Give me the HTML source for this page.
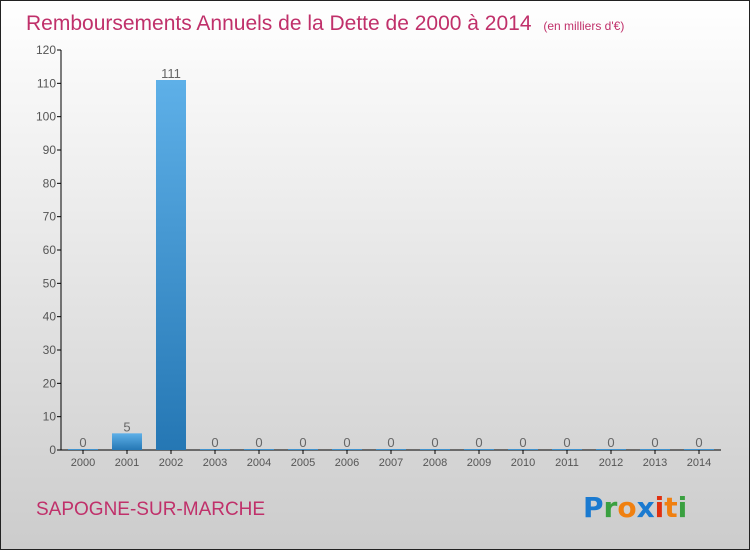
<!DOCTYPE html>
<html><head><meta charset="utf-8"><style>
body{margin:0}
#c{width:748px;height:548px;border:1px solid #222;background:linear-gradient(#fff,#ccc);position:relative;font-family:"Liberation Sans",sans-serif;overflow:hidden}
</style></head><body>
<div id="c">
<svg width="748" height="548" xmlns="http://www.w3.org/2000/svg" id="s">
<defs><linearGradient id="bg" x1="0" y1="0" x2="0" y2="1"><stop offset="0" stop-color="#5eb0e8"/><stop offset="1" stop-color="#2577b4"/></linearGradient></defs>
<text x="25" y="29" font-size="21" fill="#c0306a">Remboursements Annuels de la Dette de 2000 à 2014 <tspan font-size="12" dx="6">(en milliers d'€)</tspan></text>
<text x="35" y="514" font-size="19" fill="#c0306a">SAPOGNE-SUR-MARCHE</text>
<g font-size="28" font-weight="bold" font-family="'DejaVu Sans',sans-serif">
<text x="582" y="516"><tspan fill="#1a7ad0">P</tspan><tspan fill="#3aa040">r</tspan><tspan fill="#f08010">o</tspan><tspan fill="#1a7ad0">x</tspan><tspan fill="#e03010">i</tspan><tspan fill="#f08010">t</tspan><tspan fill="#3aa040">i</tspan></text></g>
<g id="plot"></g>
</svg></div>
<script>
const years=["2000","2001","2002","2003","2004","2005","2006","2007","2008","2009","2010","2011","2012","2013","2014"];
const values=[0,5,111,0,0,0,0,0,0,0,0,0,0,0,0];
const yTicks=[0,10,20,30,40,50,60,70,80,90,100,110,120];
const ns="http://www.w3.org/2000/svg";
const g=document.getElementById('plot');
const x0=60,yBase=449,yTop=49,yMax=120,step=44;
const y=v=>yBase-(v/yMax)*(yBase-yTop);
const xc=i=>x0+22+i*step;
function mk(t,a){const e=document.createElementNS(ns,t);for(const k in a)e.setAttribute(k,a[k]);g.appendChild(e);return e;}
let ax=mk('line',{x1:x0,y1:yTop,x2:x0,y2:yBase,stroke:'#000'});


let bx=mk('line',{x1:x0,y1:yBase,x2:x0+15*step,y2:yBase,stroke:'#000'});


yTicks.forEach(v=>{
 mk('line',{x1:x0-4,y1:y(v),x2:x0,y2:y(v),stroke:'#000'});
 const t=mk('text',{x:x0-5,y:y(v)+4,'font-size':12,fill:'#555','text-anchor':'end'});t.textContent=v;
 
 
});
years.forEach((yr,i)=>{
 const cx=xc(i),v=values[i];
 const h=Math.max(yBase-y(v),1);
 const r=mk('rect',{x:cx-15,y:yBase-h,width:30,height:h,fill:'url(#bg)'});
 
 
 mk('line',{x1:cx,y1:yBase,x2:cx,y2:yBase+4,stroke:'#000'});
 const t=mk('text',{x:cx,y:yBase+16,'font-size':11,fill:'#555','text-anchor':'middle'});t.textContent=yr;
 
 
 const l=mk('text',{x:cx,y:yBase-h-2,'font-size':13,fill:'#666','text-anchor':'middle'});l.textContent=v;
 
 
});
</script>
</body></html>
